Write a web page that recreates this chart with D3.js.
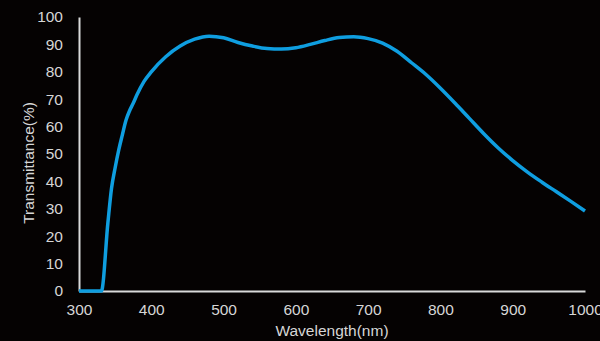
<!DOCTYPE html>
<html>
<head>
<meta charset="utf-8">
<script src="https://cdn.jsdelivr.net/npm/d3@7"></script>
<style>
  html, body { margin: 0; padding: 0; background: #050202; }
  svg { display: block; }
</style>
</head>
<body>
<svg id="chart" width="600" height="341"></svg>
<script>
// wavelength (nm) and transmittance (%)
var wavelength = [300, 320, 331, 340, 345, 350, 355, 360, 365, 370, 375, 380, 390, 400, 420, 440, 460, 480, 500, 520, 540, 560, 580, 600, 620, 640, 660, 680, 700, 720, 740, 760, 780, 800, 820, 840, 860, 880, 900, 920, 940, 960, 980, 1000];
var transmittance = [0, 0, 0, 25, 37.5, 45, 51.5, 57, 62.3, 65.8, 68.5, 71.5, 76.5, 80, 85.5, 89.4, 91.9, 93, 92.4, 90.7, 89.4, 88.5, 88.3, 88.8, 90, 91.4, 92.5, 92.8, 92.1, 90.5, 87.5, 83.3, 79, 74, 68.6, 63, 57.4, 52.2, 47.6, 43.5, 39.8, 36.3, 32.8, 29.2];
var xTicks = [300, 400, 500, 600, 700, 800, 900, 1000];
var yTicks = [0, 10, 20, 30, 40, 50, 60, 70, 80, 90, 100];

var svg = d3.select("#chart");
var plotLeft = 79, plotRight = 585, plotTop = 17, plotBottom = 291;

var x = d3.scaleLinear().domain([300, 1000]).range([plotLeft, plotRight]);
var y = d3.scaleLinear().domain([0, 100]).range([plotBottom, plotTop]);

var axisColor = "#d9d9d9", textColor = "#d6d6d6";
var font = "Liberation Sans, Arial, sans-serif";
var fontSize = "15.5px";

// x axis
var gx = svg.append("g")
    .attr("transform", "translate(0," + plotBottom + ")")
    .call(d3.axisBottom(x).tickValues(xTicks).tickSize(0).tickPadding(13).tickFormat(d3.format("d")));
gx.select(".domain").attr("stroke", axisColor).attr("stroke-width", 2);
gx.selectAll("text").attr("fill", textColor).style("font-family", font).style("font-size", fontSize);

// y axis
var gy = svg.append("g")
    .attr("transform", "translate(" + plotLeft + ",0)")
    .call(d3.axisLeft(y).tickValues(yTicks).tickSize(0).tickPadding(16));
gy.select(".domain").attr("stroke", axisColor).attr("stroke-width", 2);
gy.selectAll("text").attr("fill", textColor).style("font-family", font).style("font-size", fontSize);

// axis titles
svg.append("text")
    .attr("x", 332).attr("y", 336)
    .attr("text-anchor", "middle")
    .attr("fill", textColor)
    .style("font-family", font).style("font-size", fontSize)
    .text("Wavelength(nm)");

svg.append("text")
    .attr("transform", "translate(34,163) rotate(-90)")
    .attr("text-anchor", "middle")
    .attr("fill", textColor)
    .style("font-family", font).style("font-size", fontSize)
    .text("Transmittance(%)");

// the curve
var data = wavelength.map(function (w, i) { return [w, transmittance[i]]; });
var line = d3.line()
    .x(function (d) { return x(d[0]); })
    .y(function (d) { return y(d[1]); })
    .curve(d3.curveMonotoneX);

svg.append("path")
    .datum(data)
    .attr("fill", "none")
    .attr("stroke", "#0f9ee0")
    .attr("stroke-width", 3.5)
    .attr("stroke-linejoin", "round")
    .attr("d", line);
</script>
</body>
</html>
